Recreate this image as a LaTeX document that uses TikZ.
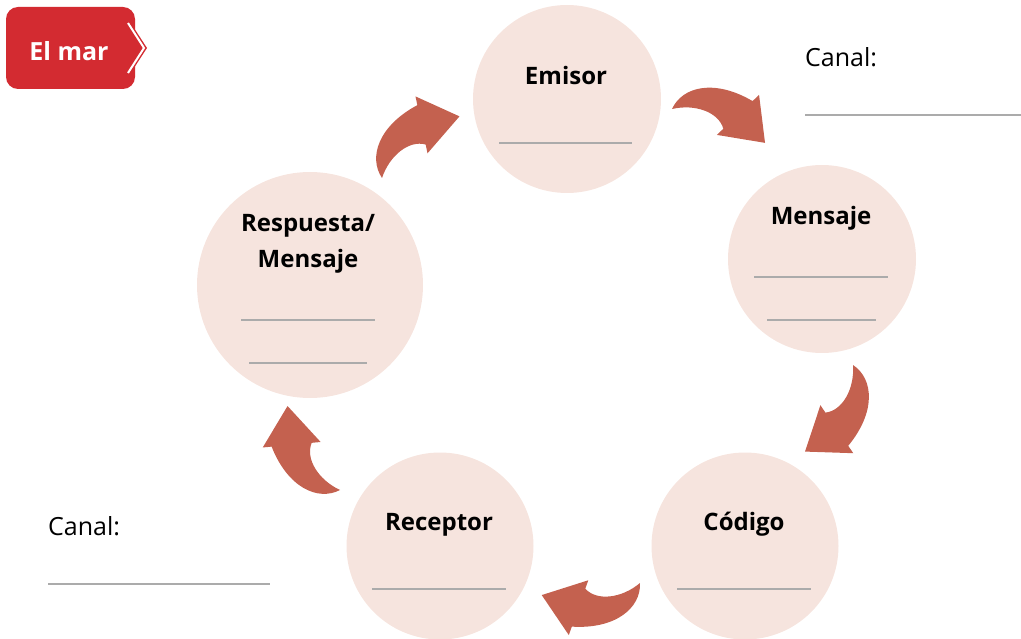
\documentclass[tikz,border=0pt]{standalone}
\usepackage{fontspec}
\setmainfont{Open Sans}
\definecolor{circfill}{HTML}{F6E4DE}
\definecolor{arrowc}{HTML}{C4614F}
\definecolor{tagred}{HTML}{D32B31}
\definecolor{rule}{HTML}{ABABAB}
\tikzset{
  x=1pt,y=1pt,
  bubble/.style={circle,fill=circfill,inner sep=0pt},
  title/.style={font=\fontsize{24}{28}\selectfont\bfseries,anchor=base,inner sep=0pt},
  canal/.style={font=\fontsize{25}{29}\selectfont,anchor=base west,inner sep=0pt},
  blank/.style={draw=rule,line width=1.3pt},
  bendarrow/.pic={
    \fill[arrowc] (0,0) .. controls (2,25) and (30,43) .. (73,35)
      -- (77,43) -- (99,0) -- (51,-9) -- (55,-1)
      .. controls (45,13) and (20,13) .. (0,0) -- cycle;
  }
}
\begin{document}
\begin{tikzpicture}
\useasboundingbox (0,0) rectangle (1021,-639);
% tag
\fill[tagred,rounded corners=12pt] (135,-7) -- (6,-7) -- (6,-89) -- (135,-89) -- cycle;
\fill[tagred] (134,-28) -- (147,-48) -- (134,-68) -- cycle;
\draw[white,line width=2pt] (128,-23) -- (144,-48) -- (128,-73);
\node[font=\fontsize{25}{29}\selectfont\bfseries,text=white,anchor=base,inner sep=0pt] (tag) at (69,-61) {El mar};
% circles
\node[bubble,minimum size=188pt] (emisor) at (567,-99) {};
\node[bubble,minimum size=226pt] (resp) at (310,-285) {};
\node[bubble,minimum size=188pt] (mensaje) at (822,-259) {};
\node[bubble,minimum size=187pt] (codigo) at (745,-546) {};
\node[bubble,minimum size=187pt] (receptor) at (440,-546) {};
% titles
\node[title] (temisor) at (566,-85) {Emisor};
\node[title] (tresp1) at (308,-232) {Respuesta/};
\node[title] (tresp2) at (308,-268) {Mensaje};
\node[title] (tmensaje) at (821,-225) {Mensaje};
\node[title] (tcodigo) at (744,-530) {Código};
\node[title] (treceptor) at (439,-530) {Receptor};
% blanks
\draw[blank] (499,-143) -- (632,-143);
\draw[blank] (241,-320) -- (375,-320);
\draw[blank] (249,-363) -- (367,-363);
\draw[blank] (754,-277) -- (888,-277);
\draw[blank] (767,-320) -- (876,-320);
\draw[blank] (677,-589) -- (811,-589);
\draw[blank] (372,-589) -- (506,-589);
% canal
\node[canal] (canal1) at (805,-67) {Canal:};
\draw[blank] (805,-115) -- (1021,-115);
\node[canal] (canal2) at (48,-535) {Canal:};
\draw[blank] (48,-584) -- (270,-584);
% arrows
\path (672,-109) pic[rotate=-20] {bendarrow};
\path (853,-365) pic[rotate=-119] {bendarrow};
\path (640,-583) pic[rotate=-173] {bendarrow};
\path (340,-490) pic[rotate=122] {bendarrow};
\path (382,-178) pic[rotate=38.5] {bendarrow};
\end{tikzpicture}
\end{document}
